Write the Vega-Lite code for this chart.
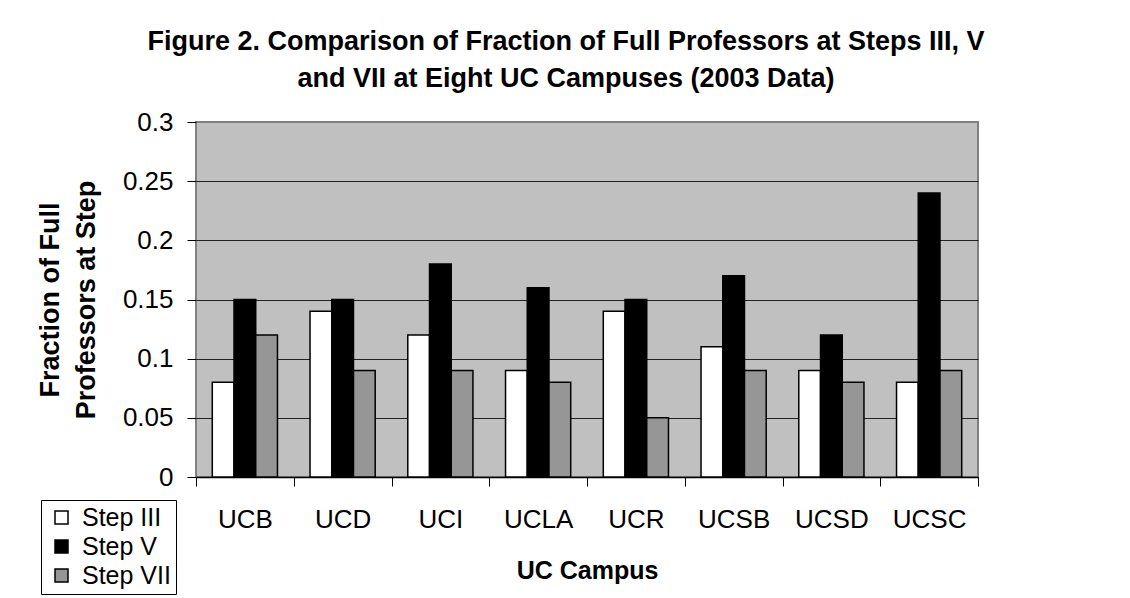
{
  "$schema": "https://vega.github.io/schema/vega-lite/v6.json",
  "autosize": {"type": "none"},
  "padding": {"left": 196, "top": 122, "right": 152, "bottom": 121},
  "width": 782,
  "height": 355,
  "background": "white",
  "title": {
    "text": ["Figure 2. Comparison of Fraction of Full Professors at Steps III, V", "and VII at Eight UC Campuses (2003 Data)"],
    "font": "Liberation Sans",
    "fontSize": 27,
    "fontWeight": "bold",
    "lineHeight": 37,
    "anchor": "middle",
    "dx": -21,
    "offset": 16,
    "color": "#000000"
  },
  "data": {
    "values": [
      {"campus": "UCB", "step": "Step III", "value": 0.08},
      {"campus": "UCB", "step": "Step V", "value": 0.15},
      {"campus": "UCB", "step": "Step VII", "value": 0.12},
      {"campus": "UCD", "step": "Step III", "value": 0.14},
      {"campus": "UCD", "step": "Step V", "value": 0.15},
      {"campus": "UCD", "step": "Step VII", "value": 0.09},
      {"campus": "UCI", "step": "Step III", "value": 0.12},
      {"campus": "UCI", "step": "Step V", "value": 0.18},
      {"campus": "UCI", "step": "Step VII", "value": 0.09},
      {"campus": "UCLA", "step": "Step III", "value": 0.09},
      {"campus": "UCLA", "step": "Step V", "value": 0.16},
      {"campus": "UCLA", "step": "Step VII", "value": 0.08},
      {"campus": "UCR", "step": "Step III", "value": 0.14},
      {"campus": "UCR", "step": "Step V", "value": 0.15},
      {"campus": "UCR", "step": "Step VII", "value": 0.05},
      {"campus": "UCSB", "step": "Step III", "value": 0.11},
      {"campus": "UCSB", "step": "Step V", "value": 0.17},
      {"campus": "UCSB", "step": "Step VII", "value": 0.09},
      {"campus": "UCSD", "step": "Step III", "value": 0.09},
      {"campus": "UCSD", "step": "Step V", "value": 0.12},
      {"campus": "UCSD", "step": "Step VII", "value": 0.08},
      {"campus": "UCSC", "step": "Step III", "value": 0.08},
      {"campus": "UCSC", "step": "Step V", "value": 0.24},
      {"campus": "UCSC", "step": "Step VII", "value": 0.09}
    ]
  },
  "mark": {"type": "bar", "stroke": "#000000", "strokeWidth": 1.5},
  "encoding": {
    "x": {
      "field": "campus",
      "type": "nominal",
      "sort": ["UCB", "UCD", "UCI", "UCLA", "UCR", "UCSB", "UCSD", "UCSC"],
      "scale": {"paddingInner": 0, "paddingOuter": 0},
      "axis": {
        "title": "UC Campus",
        "titleFont": "Liberation Sans",
        "titleFontSize": 25,
        "titleFontWeight": "bold",
        "titleColor": "#000000",
        "titlePadding": 26,
        "labelFont": "Liberation Sans",
        "labelFontSize": 26,
        "labelColor": "#000000",
        "labelAngle": 0,
        "labelPadding": 20,
        "tickBand": "extent",
        "tickSize": 9,
        "tickColor": "#000000",
        "tickWidth": 1,
        "domainColor": "#000000",
        "domainWidth": 1.5,
        "grid": false
      }
    },
    "xOffset": {
      "field": "step",
      "type": "nominal",
      "sort": ["Step III", "Step V", "Step VII"],
      "scale": {"paddingInner": 0, "paddingOuter": 0.75}
    },
    "y": {
      "field": "value",
      "type": "quantitative",
      "scale": {"domain": [0, 0.3], "nice": false},
      "axis": {
        "values": [0, 0.05, 0.1, 0.15, 0.2, 0.25, 0.3],
        "format": "~g",
        "title": ["Fraction of Full", "Professors at Step"],
        "titleFont": "Liberation Sans",
        "titleFontSize": 27,
        "titleFontWeight": "bold",
        "titleColor": "#000000",
        "titleLineHeight": 36,
        "titlePadding": 22,
        "labelFont": "Liberation Sans",
        "labelFontSize": 26,
        "labelColor": "#000000",
        "labelPadding": 14,
        "tickSize": 9,
        "tickColor": "#000000",
        "domain": false,
        "grid": true,
        "gridColor": {"condition": {"test": "datum.value >= 0.3", "value": "#808080"}, "value": "#222222"},
        "gridWidth": 1
      }
    },
    "color": {
      "field": "step",
      "type": "nominal",
      "scale": {"domain": ["Step III", "Step V", "Step VII"], "range": ["#ffffff", "#000000", "#969696"]},
      "legend": {
        "orient": "none",
        "legendX": -155,
        "legendY": 378,
        "title": null,
        "strokeColor": "#000000",
        "padding": 5,
        "symbolType": "square",
        "symbolSize": 169,
        "symbolStrokeColor": "#000000",
        "symbolStrokeWidth": 1.5,
        "symbolOffset": 3,
        "labelFont": "Liberation Sans",
        "labelFontSize": 25,
        "labelColor": "#000000",
        "rowPadding": 3,
        "labelOffset": 8
      }
    }
  },
  "config": {
    "view": {"fill": "#c0c0c0", "stroke": "#808080", "strokeWidth": 2}
  }
}
